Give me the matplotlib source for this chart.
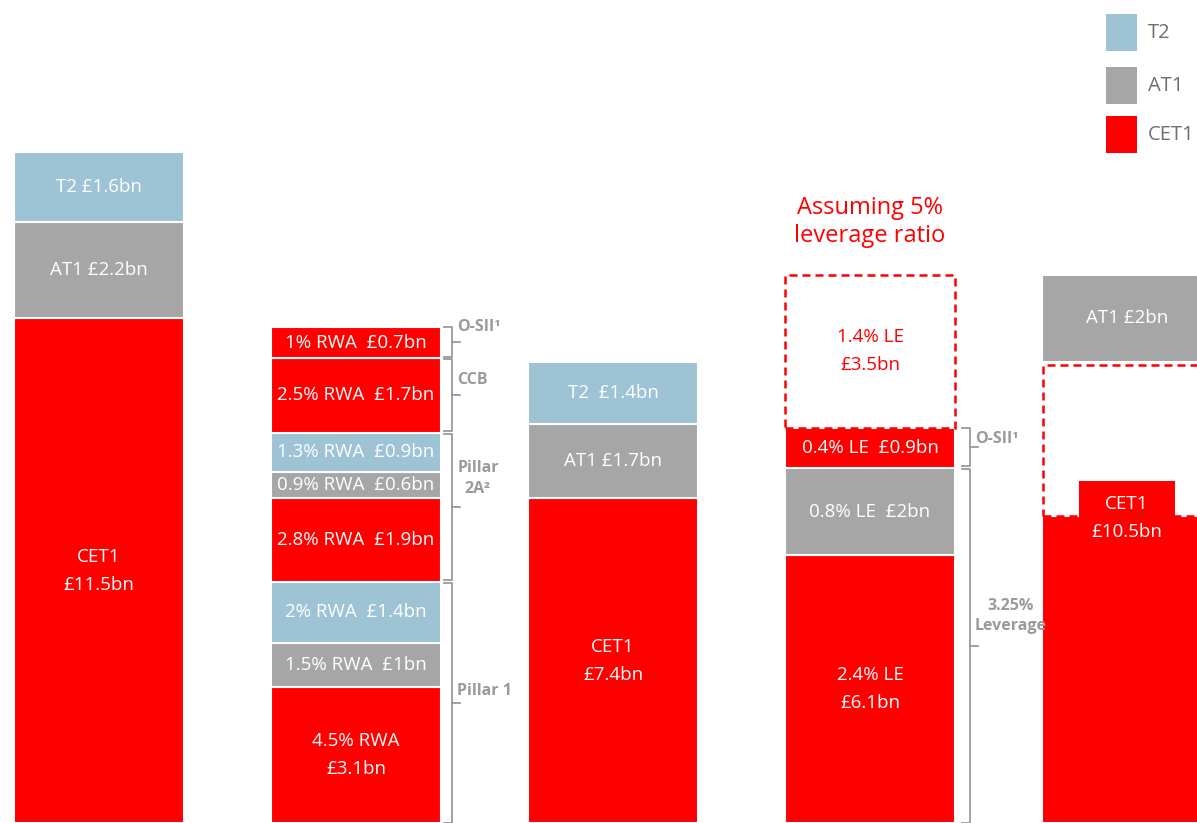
import matplotlib
matplotlib.use("Agg")
import matplotlib.pyplot as plt
from matplotlib.patches import Rectangle

plt.rcParams['font.family'] = ['Open Sans', 'DejaVu Sans']

RED = '#ff0000'
GREY = '#a6a6a6'
BLUE = '#9dc3d5'
BRACE = '#9a9a9a'
colours = {'CET1': RED, 'AT1': GREY, 'T2': BLUE}

W = 0.66  # bar width

# bar 1: current capital stack
cap_tiers = ['CET1', 'AT1', 'T2']
cap_vals = [11.5, 2.2, 1.6]
cap_labels = ['CET1\n£11.5bn', 'AT1 £2.2bn', 'T2 £1.6bn']

# bar 2: RWA requirement build-up
rwa_tiers = ['CET1', 'AT1', 'T2', 'CET1', 'AT1', 'T2', 'CET1', 'CET1']
rwa_vals = [3.1, 1.0, 1.4, 1.9, 0.6, 0.9, 1.7, 0.7]
rwa_labels = ['4.5% RWA\n£3.1bn', '1.5% RWA  £1bn', '2% RWA  £1.4bn',
              '2.8% RWA  £1.9bn', '0.9% RWA  £0.6bn', '1.3% RWA  £0.9bn',
              '2.5% RWA  £1.7bn', '1% RWA  £0.7bn']

# bar 3: RWA requirement by tier
req_tiers = ['CET1', 'AT1', 'T2']
req_vals = [7.4, 1.7, 1.4]
req_labels = ['CET1\n£7.4bn', 'AT1 £1.7bn', 'T2  £1.4bn']

# bar 4: leverage requirement
lev_tiers = ['CET1', 'AT1', 'CET1']
lev_vals = [6.1, 2.0, 0.9]
lev_labels = ['2.4% LE\n£6.1bn', '0.8% LE  £2bn', '0.4% LE  £0.9bn']
lev_extra = 3.5
lev_extra_label = '1.4% LE\n£3.5bn'

# bar 5: leverage requirement at 5%
lev5_cet1 = 10.5
lev5_at1 = 2.0

fig = plt.figure(figsize=(11.97, 8.23), dpi=100)
ax = fig.add_axes([0, 0, 1, 1])
ax.set_xlim(-0.385, 4.272)
ax.set_ylim(0, 18.76)
ax.axis('off')


def stack(x, tiers, vals, labels):
    bottom = 0
    for t, v, lab in zip(tiers, vals, labels):
        ax.bar(x, v, W, bottom=bottom, color=colours[t], edgecolor='white', linewidth=1.5)
        ax.text(x, bottom + v / 2, lab, ha='center', va='center', color='white',
                fontsize=13.5, linespacing=1.7)
        bottom += v
    return bottom


stack(0, cap_tiers, cap_vals, cap_labels)
stack(1, rwa_tiers, rwa_vals, rwa_labels)
stack(2, req_tiers, req_vals, req_labels)
top4 = stack(3, lev_tiers, lev_vals, lev_labels)

dash = (0, (3.2, 2.0))
ax.add_patch(Rectangle((3 - W / 2, top4), W, lev_extra, fill=False, edgecolor=RED,
                       linestyle=dash, linewidth=1.8))
ax.text(3, top4 + lev_extra / 2, lev_extra_label, ha='center', va='center', color=RED,
        fontsize=13.5, linespacing=1.7)
ax.text(3, top4 + lev_extra + 1.2, 'Assuming 5%\nleverage ratio', ha='center', va='center',
        color=RED, fontsize=17, linespacing=1.25)

# bar 5
solid5 = lev5_cet1 - lev_extra
ax.bar(4, solid5, W, color=RED, edgecolor='white', linewidth=1.5)
ax.bar(4, lev5_at1, W, bottom=lev5_cet1, color=GREY, edgecolor='white', linewidth=1.5)
ax.add_patch(Rectangle((4 - W / 2 + 0.004, solid5), W, lev_extra - 0.06, fill=False,
                       edgecolor=RED, linestyle=dash, linewidth=1.8, zorder=3))
ax.add_patch(Rectangle((4 - 0.187, solid5 - 0.1), 0.374, 0.9, color=RED, linewidth=0,
                       zorder=4))
ax.text(4, solid5 - 0.05, 'CET1\n£10.5bn', ha='center', va='center', color='white',
        fontsize=13.5, linespacing=1.7, zorder=5)
ax.text(4, lev5_cet1 + lev5_at1 / 2, 'AT1 £2bn', ha='center', va='center', color='white',
        fontsize=13.5)


def brace(x, y0, y1, label, ly):
    xl, xr = x - 0.03, x + 0.032
    ym = (y0 + y1) / 2
    ax.plot([xl, x, x, xl], [y1, y1, y0, y0], color=BRACE, lw=1.3, solid_joinstyle='round')
    ax.plot([x, xr], [ym, ym], color=BRACE, lw=1.3)
    ax.text(x + 0.02, ly, label, ha='left', va='center', color=BRACE, fontsize=11.5,
            fontweight='bold', linespacing=1.4, multialignment='center')


bx = 1.3735
g = 0.03
b = [0, 3.1 + 1.0 + 1.4, 3.1 + 1.0 + 1.4 + 1.9 + 0.6 + 0.9, 10.6, 11.3]
brace(bx, b[0], b[1] - g, 'Pillar 1', 3.0)
brace(bx, b[1] + g, b[2] - g, 'Pillar\n2A²', 7.85)
brace(bx, b[2] + g, b[3] - g, 'CCB', 10.1)
brace(bx, b[3] + g, b[4], 'O-SII¹', 11.3)

bx4 = bx + 2.0 + 0.015
brace(bx4, 0, 8.1 - g, '3.25%\nLeverage', 4.72)
brace(bx4, 8.1 + g, 9.0, 'O-SII¹', 8.75)

# legend
for i, t in enumerate(['T2', 'AT1', 'CET1']):
    ytop = [14, 67, 116][i]
    fig.add_artist(Rectangle((1106 / 1197, 1 - (ytop + 37) / 823), 31 / 1197, 37 / 823,
                             transform=fig.transFigure, color=colours[t], linewidth=0))
    fig.text(1148 / 1197, 1 - (ytop + 19) / 823, t, ha='left', va='center',
             color='#6b7171', fontsize=14.5)

fig.savefig('out.png', dpi=100)
